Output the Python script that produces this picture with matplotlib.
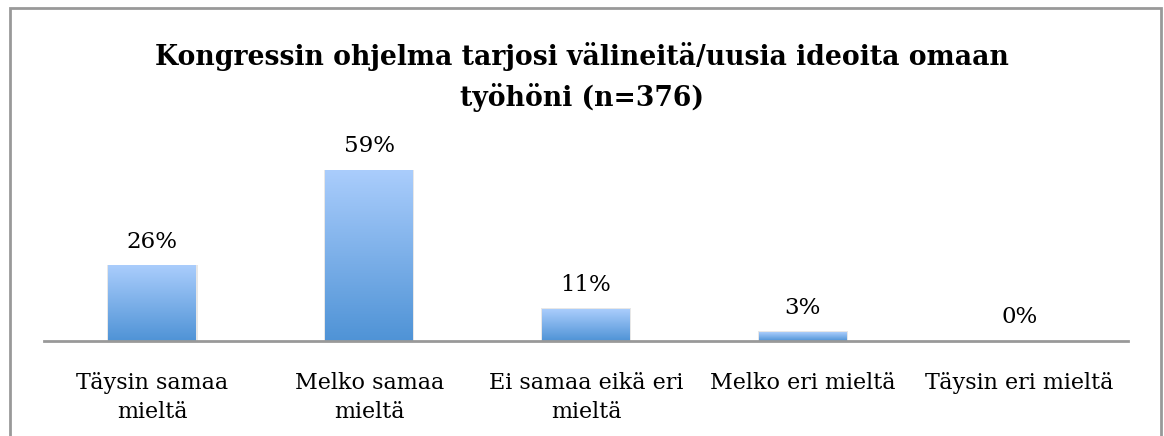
import matplotlib.pyplot as plt
import numpy as np
from matplotlib.patches import Rectangle
from matplotlib.colors import LinearSegmentedColormap

categories = ['Täysin samaa\nmieltä', 'Melko samaa\nmieltä', 'Ei samaa eikä eri\nmieltä',
              'Melko eri mieltä', 'Täysin eri mieltä']
values = [26, 59, 11, 3, 0]
title = 'Kongressin ohjelma tarjosi välineitä/uusia ideoita omaan\ntyöhöni (n=376)'

plt.rcParams['font.family'] = ['DejaVu Serif']

W, H = 1164, 436
fig = plt.figure(figsize=(W / 100, H / 100), dpi=100)

# outer frame like the office chart border
fig.patches.append(Rectangle((10 / W, -0.1), (1161 - 10) / W, 1.1 - 8 / H,
                             transform=fig.transFigure, fill=False,
                             edgecolor='#999999', lw=2))

ax = fig.add_axes([44 / W, 1 - 341 / H, (1128 - 44) / W, 202 / H])

cmap = LinearSegmentedColormap.from_list('bar', ['#4f93d6', '#aacdfc'])
grad = np.linspace(0, 1, 256).reshape(-1, 1)
bw = 0.405
x = np.arange(len(values))
for xi, v in zip(x, values):
    if v > 0:
        # soft shadow
        ax.add_patch(Rectangle((xi - bw / 2 - 0.006, 0), bw + 0.012, v + 0.3,
                               color='#d8d8d8', alpha=0.6, zorder=1, lw=0))
        ax.imshow(grad, extent=(xi - bw / 2, xi + bw / 2, 0, v), origin='lower',
                  cmap=cmap, aspect='auto', zorder=2)
    ax.text(xi, v + 4.6, f'{v}%', ha='center', va='bottom', fontsize=16.5)

ax.set_xlim(-0.5, len(values) - 0.5)
ax.set_ylim(0, 70)
for s in ['top', 'right', 'left']:
    ax.spines[s].set_visible(False)
ax.spines['bottom'].set_color('#999999')
ax.spines['bottom'].set_linewidth(2)
ax.set_yticks([])
ax.set_xticks(x)
ax.set_xticklabels(categories, fontsize=16, linespacing=1.45)
ax.tick_params(axis='x', length=0, pad=22)

fig.text(0.5, 1 - 77 / H, title, ha='center', va='center', fontsize=19.2,
         fontweight='bold', linespacing=1.55)

fig.savefig('out.png', dpi=100)
